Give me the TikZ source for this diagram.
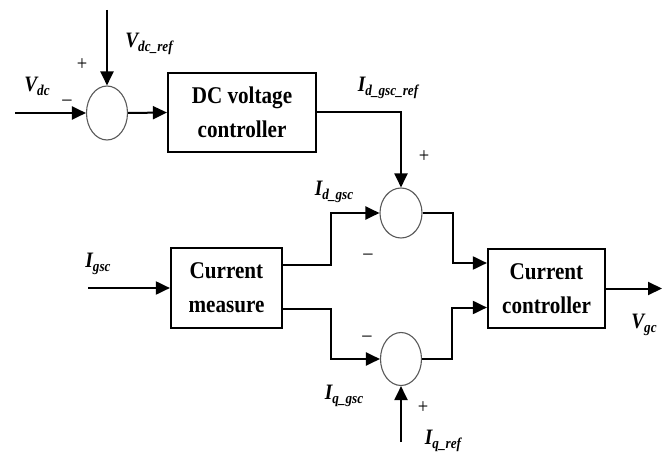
\documentclass[tikz,border=0pt]{standalone}
\usepackage{fontspec}
\setmainfont{Liberation Serif}[FakeStretch=0.88]
\usetikzlibrary{arrows.meta,shapes.geometric,calc}
\newcommand{\sig}[2]{{\fontsize{22}{22}\selectfont\bfseries\itshape #1}\raisebox{-4pt}{\fontsize{15}{15}\selectfont\bfseries\itshape #2}}
\tikzset{
  blockbox/.style={draw,line width=2.2pt,align=center,inner sep=0pt,
    font=\fontsize{24}{34}\selectfont\bfseries},
  sumnode/.style={draw=gray!70!black,line width=1.1pt,ellipse,inner sep=0pt},
  conn/.style={line width=2pt,-{Triangle[length=14pt,width=13pt]}},
  sgn/.style={font=\fontsize{21}{21}\selectfont,inner sep=0pt},
  lab/.style={inner sep=0pt}
}
\begin{document}
\begin{tikzpicture}[x=1pt,y=-1pt]
\useasboundingbox (0,0) rectangle (671,465);
% blocks
\node[blockbox,minimum width=148pt,minimum height=79pt] (dc) at (242,112.5) {DC voltage\\controller};
\node[blockbox,minimum width=111pt,minimum height=80pt] (cm) at (226.5,288) {Current\\measure};
\node[blockbox,minimum width=117pt,minimum height=79pt] (cc) at (546.5,288.5) {Current\\controller};
% sums
\node[sumnode,minimum width=41pt,minimum height=54pt] (s1) at (107,113) {};
\node[sumnode,minimum width=42pt,minimum height=50pt] (s2) at (401,213) {};
\node[sumnode,minimum width=41pt,minimum height=53pt] (s3) at (401,359) {};
% free ends
\coordinate (vdcin) at (15,113);
\coordinate (vref) at (107,10);
\coordinate (igin) at (88,288);
\coordinate (iqref) at (401,442);
\coordinate (vout) at (662,288.5);
% connectors
\draw[conn] (vdcin) -- (s1.west);
\draw[conn] (vref) -- (s1.north);
\draw[conn] (s1.east) -- (dc.west);
\draw[conn] (dc.east) -| (s2.north);
\draw[conn] (igin) -- (cm.west);
\draw[conn] ([yshift=23pt]cm.east) -- ++(48,0) |- (s2.west);
\draw[conn] ([yshift=-21pt]cm.east) -- ++(48,0) |- (s3.west);
\draw[conn] (iqref) -- (s3.south);
\draw[conn] (s2.east) -- ++(30,0) |- ([yshift=25.5pt]cc.west);
\draw[conn] (s3.east) -- ++(30,0) |- ([yshift=-19pt]cc.west);
\draw[conn] (cc.east) -- (vout);
% labels
\node[lab] (lvdc) at (37,86) {\sig{V}{dc}};
\node[lab] (lvref) at (149,44) {\sig{V}{dc\_ref}};
\node[lab] (lidref) at (388,88) {\sig{I}{d\_gsc\_ref}};
\node[lab] (lid) at (334,192) {\sig{I}{d\_gsc}};
\node[lab] (lig) at (98,264) {\sig{I}{gsc}};
\node[lab] (liq) at (344,396) {\sig{I}{q\_gsc}};
\node[lab] (liqref) at (443,441) {\sig{I}{q\_ref}};
\node[lab] (lvgc) at (644,325) {\sig{V}{gc}};
% signs
\node[sgn] (p1) at (82,65) {+};
\node[sgn] (m1) at (67,103) {\textendash};
\node[sgn] (p2) at (424,157) {+};
\node[sgn] (m2) at (368,257) {\textendash};
\node[sgn] (m3) at (367,339) {\textendash};
\node[sgn] (p3) at (423,408) {+};
\end{tikzpicture}
\end{document}
